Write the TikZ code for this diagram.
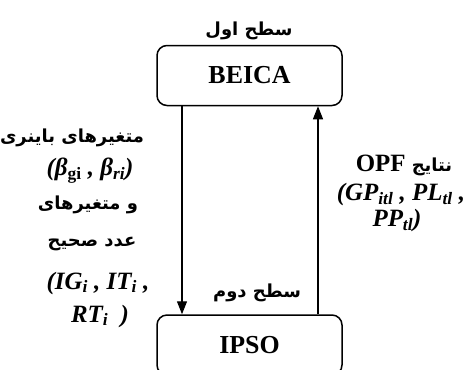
\documentclass[tikz,border=0pt]{standalone}
\usepackage{fontspec}
\setmainfont{Liberation Serif}
\newfontfamily\arabicfont[Script=Arabic]{DejaVu Sans}
\TeXXeTstate=1
\usetikzlibrary{arrows.meta}
\newcommand\fa[1]{{\arabicfont\bfseries\beginR #1\endR}}
\begin{document}
\begin{tikzpicture}[x=1bp,y=-1bp,
  box/.style={draw,line width=1.5bp,rounded corners=10bp,minimum width=185bp,minimum height=60bp,inner sep=0pt,font=\fontsize{26}{30}\selectfont\bfseries},
  arr/.style={line width=1.3bp,-{Triangle[width=10bp,length=13bp]}},
  fatxt/.style={inner sep=0pt,font=\fontsize{18}{21}\selectfont},
  latxt/.style={inner sep=0pt,font=\fontsize{25}{29}\selectfont\bfseries\itshape}]
\useasboundingbox (0,0) rectangle (470,369);
\clip (0,0) rectangle (470,369);
\node[box] (beica) at (249.5,75.5) {BEICA};
\node[box] (ipso) at (249.5,345) {IPSO};
\node[fatxt] (t1) at (249,31) {\fa{سطح اول}};
\node[fatxt] (t2) at (257,293) {\fa{سطح دوم}};
\draw[arr] ([xshift=-67.5bp]beica.south) -- ([xshift=-67.5bp]ipso.north);
\draw[arr] ([xshift=68.5bp]ipso.north) -- ([xshift=68.5bp]beica.south);
% left labels
\node[fatxt] (l1) at (72,138) {\fa{متغیرهای باینری}};
\node[latxt] (l2) at (90,171) {(β\textsubscript{\upshape gi} , β\textsubscript{ri})};
\node[fatxt] (l3) at (88,205) {\fa{و متغیرهای}};
\node[fatxt] (l4) at (92,244) {\fa{عدد صحیح}};
\node[latxt] (l5) at (98,283) {(IG\textsubscript{i} , IT\textsubscript{i} ,};
\node[latxt] (l6) at (100,316) {RT\textsubscript{i}\ \ )};
% right labels
\node[inner sep=0pt,font=\fontsize{25}{29}\selectfont\bfseries] (r1) at (404,165) {OPF\ \fontsize{18}{21}\selectfont\fa{نتایج}};
\node[latxt] (r2) at (401,195) {(GP\textsubscript{itl} , PL\textsubscript{tl} ,};
\node[latxt] (r3) at (397,221) {PP\textsubscript{tl})};
\end{tikzpicture}
\end{document}
